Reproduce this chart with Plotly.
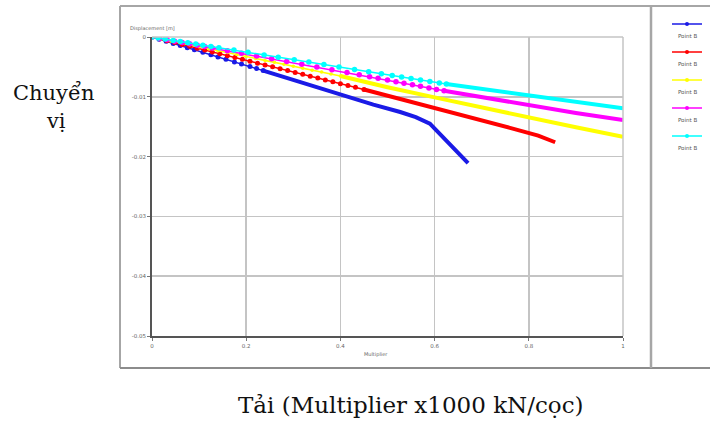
import plotly.graph_objects as go

# ---------------- data ----------------
tick_x = [0, 0.2, 0.4, 0.6, 0.8, 1]
tick_x_text = ["0", "0.2", "0.4", "0.6", "0.8", "1"]
tick_y = [0, -0.01, -0.02, -0.03, -0.04, -0.05]
tick_y_text = ["0", "-0.01", "-0.02", "-0.03", "-0.04", "-0.05"]

series_names = ["Point B", "Point B", "Point B", "Point B", "Point B"]
series_colors = ["#1a1ae6", "#ff0000", "#ffff00", "#ff00ff", "#00ffff"]

blue_mx = [0, 0.015, 0.03, 0.045, 0.06, 0.075, 0.09, 0.108, 0.125, 0.14, 0.157, 0.175, 0.19, 0.208, 0.222, 0.236]
blue_my = [0, -0.00036, -0.00071, -0.00107, -0.00143, -0.00179, -0.00214, -0.00257, -0.00298, -0.00333,
           -0.00374, -0.00417, -0.00452, -0.00495, -0.00528, -0.00562]
blue_lx = [0.236, 0.30, 0.36, 0.42, 0.47, 0.527, 0.56, 0.59, 0.63, 0.671]
blue_ly = [-0.00562, -0.00718, -0.00864, -0.0101, -0.0113, -0.01254, -0.0134, -0.0145, -0.0178, -0.0211]

red_mx = [0, 0.016, 0.032, 0.048, 0.064, 0.08, 0.096, 0.112, 0.128, 0.144, 0.16, 0.176, 0.192, 0.208, 0.224,
          0.24, 0.256, 0.272, 0.288, 0.304, 0.32, 0.336, 0.352, 0.368, 0.384, 0.40, 0.416, 0.432, 0.45]
red_my = [0, -0.00031, -0.00062, -0.00094, -0.00125, -0.00156, -0.00187, -0.00218, -0.0025, -0.00281, -0.00312,
          -0.00343, -0.00374, -0.00406, -0.00437, -0.00468, -0.00499, -0.0053, -0.00562, -0.00593, -0.00624,
          -0.00655, -0.00686, -0.00718, -0.00749, -0.0078, -0.00811, -0.00842, -0.00878]
red_lx = [0.45, 0.52, 0.6, 0.68, 0.76, 0.82, 0.856]
red_ly = [-0.00878, -0.0102, -0.0119, -0.0135, -0.0152, -0.0165, -0.0176]

yellow_mx = [0, 0.02, 0.04, 0.06, 0.08, 0.10, 0.12, 0.14, 0.16, 0.18, 0.20, 0.22, 0.24, 0.26, 0.28, 0.30,
             0.32, 0.34, 0.36, 0.38, 0.40]
yellow_my = [0, -0.00033, -0.00065, -0.00098, -0.0013, -0.00163, -0.00196, -0.00228, -0.00261, -0.00293,
             -0.00326, -0.00359, -0.00391, -0.00424, -0.00456, -0.00489, -0.00522, -0.00554, -0.00587,
             -0.00619, -0.00652]
yellow_lx = [0.40, 0.5, 0.6, 0.7, 0.8, 0.9, 1.0]
yellow_ly = [-0.00652, -0.0084, -0.0101, -0.0118, -0.0134, -0.0151, -0.0167]

magenta_mx = [0, 0.016, 0.032, 0.048, 0.064, 0.08, 0.096, 0.112, 0.128, 0.16, 0.19, 0.222, 0.254, 0.286, 0.318,
              0.35, 0.382, 0.414, 0.44, 0.462, 0.48, 0.5, 0.518, 0.535, 0.553, 0.57, 0.588, 0.604, 0.62]
magenta_my = [0, -0.00023, -0.00046, -0.00069, -0.00092, -0.00114, -0.00137, -0.0016, -0.00183, -0.00229,
              -0.00272, -0.00317, -0.00363, -0.00409, -0.00455, -0.005, -0.00546, -0.00592, -0.0063, -0.00663,
              -0.0069, -0.0072, -0.00747, -0.00772, -0.00799, -0.00825, -0.00852, -0.00876, -0.009]
magenta_lx = [0.62, 0.7, 0.8, 0.9, 1.0]
magenta_ly = [-0.009, -0.0101, -0.0114, -0.0127, -0.0139]

cyan_mx = [0, 0.013, 0.028, 0.045, 0.06, 0.076, 0.093, 0.108, 0.125, 0.142, 0.174, 0.204, 0.238, 0.268, 0.302,
           0.333, 0.365, 0.397, 0.43, 0.46, 0.487, 0.51, 0.53, 0.55, 0.57, 0.59, 0.61, 0.625]
cyan_my = [0, -0.00016, -0.00035, -0.00057, -0.00076, -0.00096, -0.00117, -0.00136, -0.00158, -0.00179,
           -0.00219, -0.00257, -0.003, -0.00338, -0.0038, -0.0042, -0.0046, -0.005, -0.00542, -0.0058,
           -0.00614, -0.00643, -0.00668, -0.00693, -0.00718, -0.00743, -0.00768, -0.00787]
cyan_lx = [0.625, 0.7, 0.8, 0.9, 1.0]
cyan_ly = [-0.00787, -0.0087, -0.0097, -0.0108, -0.0119]

marker_parts = [(blue_mx, blue_my), (red_mx, red_my), (yellow_mx, yellow_my),
                (magenta_mx, magenta_my), (cyan_mx, cyan_my)]
line_parts = [(blue_lx, blue_ly), (red_lx, red_ly), (yellow_lx, yellow_ly),
              (magenta_lx, magenta_ly), (cyan_lx, cyan_ly)]
marker_sizes = [5, 5, 3.5, 5.5, 5.5]

# ---------------- layout geometry (page pixels) ----------------
W, H = 710, 422
PL, PR, PT, PB = 152, 623, 37, 336   # plot area in page pixels


def px(x):
    return (x - PL) / (PR - PL)


def py(y):
    return (PB - y) / (PB - PT)


fig = go.Figure()

for i in range(5):
    c = series_colors[i]
    lx, ly = line_parts[i]
    fig.add_trace(go.Scatter(x=lx, y=ly, mode="lines", showlegend=False,
                             line=dict(color=c, width=4), hoverinfo="skip"))
    mx, my = marker_parts[i]
    fig.add_trace(go.Scatter(x=mx, y=my, mode="lines+markers", showlegend=False,
                             line=dict(color=c, width=1.5),
                             marker=dict(color=c, size=marker_sizes[i], line=dict(width=0)),
                             name=series_names[i]))

tick_font = dict(family="DejaVu Sans", size=5.5, color="#666666")
fig.update_xaxes(range=[0, 1], tickvals=tick_x, ticktext=tick_x_text, showgrid=True,
                 gridcolor="#c4c4c4", gridwidth=1.5, zeroline=False, showline=True,
                 linecolor="#555555", linewidth=2, ticks="outside", ticklen=3, tickcolor="#777777",
                 tickfont=tick_font, fixedrange=True)
fig.update_yaxes(range=[-0.05, 0], tickvals=tick_y, ticktext=tick_y_text, showgrid=True,
                 gridcolor="#c4c4c4", gridwidth=1.5, zeroline=False, showline=True,
                 linecolor="#555555", linewidth=2, ticks="outside", ticklen=3, tickcolor="#777777",
                 tickfont=tick_font, fixedrange=True)

shapes = []
frame_col = "#a6a6a6"
# plot-area light border (top/right)
shapes.append(dict(type="line", xref="paper", yref="paper", x0=0, x1=1, y0=1, y1=1,
                   line=dict(color="#c4c4c4", width=1.5)))
shapes.append(dict(type="line", xref="paper", yref="paper", x0=1, x1=1, y0=0, y1=1,
                   line=dict(color="#c4c4c4", width=1.5)))
# screenshot frame
shapes.append(dict(type="line", xref="paper", yref="paper", x0=px(120), x1=px(120), y0=py(6), y1=py(368),
                   line=dict(color=frame_col, width=2)))
shapes.append(dict(type="line", xref="paper", yref="paper", x0=px(120), x1=px(712), y0=py(6), y1=py(6),
                   line=dict(color=frame_col, width=2)))
shapes.append(dict(type="line", xref="paper", yref="paper", x0=px(120), x1=px(712), y0=py(368), y1=py(368),
                   line=dict(color="#8c8c8c", width=2)))
shapes.append(dict(type="line", xref="paper", yref="paper", x0=px(651), x1=px(651), y0=py(6), y1=py(368),
                   line=dict(color=frame_col, width=2.5)))

annotations = []
# legend drawn in the side panel
leg_y = [24, 52, 80, 108, 136]
for i in range(5):
    c = series_colors[i]
    shapes.append(dict(type="line", xref="paper", yref="paper", x0=px(672), x1=px(702),
                       y0=py(leg_y[i]), y1=py(leg_y[i]), line=dict(color=c, width=1.5)))
    shapes.append(dict(type="circle", xref="paper", yref="paper", x0=px(685), x1=px(689),
                       y0=py(leg_y[i] + 2), y1=py(leg_y[i] - 2), fillcolor=c, line=dict(width=0)))
    annotations.append(dict(text=series_names[i], xref="paper", yref="paper", x=px(687), y=py(leg_y[i] + 12),
                            showarrow=False, xanchor="center", yanchor="middle",
                            font=dict(family="DejaVu Sans", size=5.5, color="#555555")))

annotations.append(dict(text="Displacement [m]", xref="paper", yref="paper", x=px(128), y=py(28),
                        showarrow=False, xanchor="left", yanchor="middle",
                        font=dict(family="DejaVu Sans", size=5, color="#666666")))
annotations.append(dict(text="Multiplier", xref="paper", yref="paper", x=px(376), y=py(354),
                        showarrow=False, xanchor="center", yanchor="middle",
                        font=dict(family="DejaVu Sans", size=5, color="#666666")))
serif_l = dict(family="DejaVu Serif, Liberation Serif, serif", size=21, color="#111111")
serif_b = dict(family="DejaVu Serif, Liberation Serif, serif", size=23, color="#111111")
annotations.append(dict(text="Chuyển", xref="paper", yref="paper", x=px(53), y=py(93),
                        showarrow=False, xanchor="center", yanchor="middle", font=serif_l))
annotations.append(dict(text="vị", xref="paper", yref="paper", x=px(56), y=py(121),
                        showarrow=False, xanchor="center", yanchor="middle", font=serif_l))
annotations.append(dict(text="Tải (Multiplier x1000 kN/cọc)", xref="paper", yref="paper", x=px(411), y=py(405),
                        showarrow=False, xanchor="center", yanchor="middle", font=serif_b))

fig.update_layout(width=W, height=H,
                  margin=dict(l=PL, r=W - PR, t=PT, b=H - PB, pad=0),
                  paper_bgcolor="white", plot_bgcolor="white", showlegend=False,
                  shapes=shapes, annotations=annotations)

fig.write_html("out.html", config={"displayModeBar": False, "staticPlot": True},
               post_script="document.body.style.margin='0';document.body.style.overflow='hidden';")
